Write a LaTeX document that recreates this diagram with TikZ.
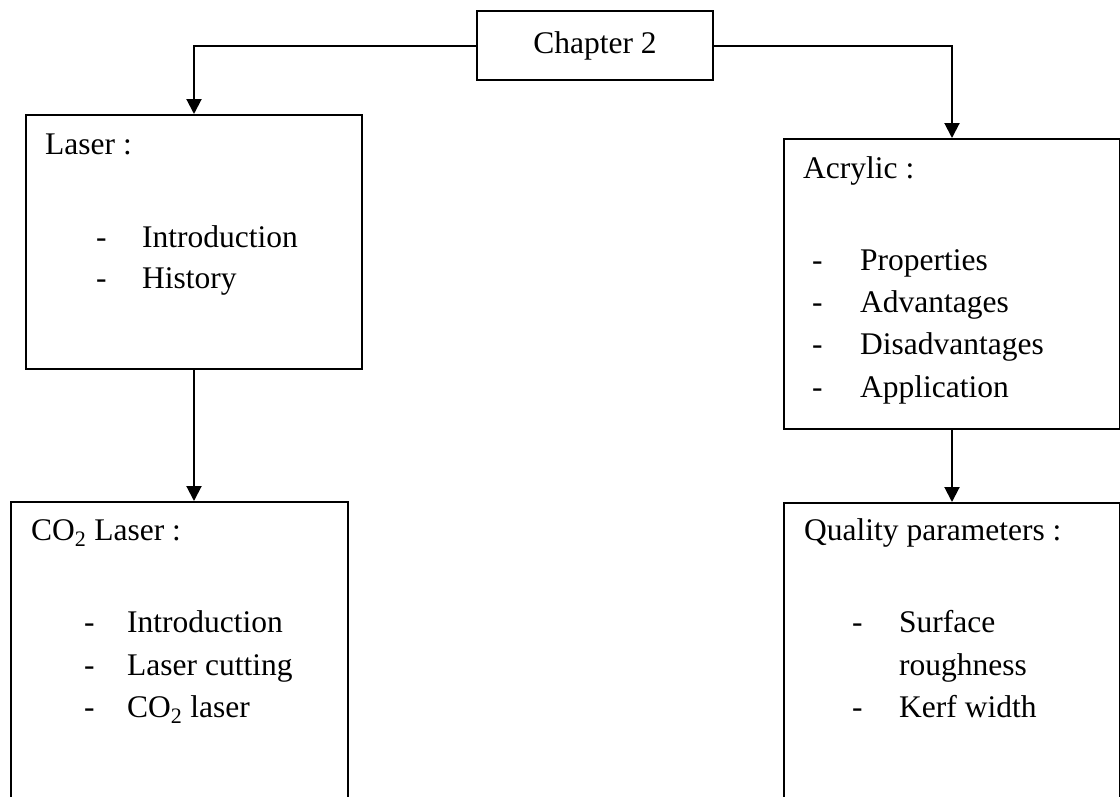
\documentclass[tikz,border=0pt]{standalone}
\usepackage{fontspec}
\setmainfont{Liberation Serif}
\usetikzlibrary{arrows.meta}
\tikzset{
  box/.style={draw, line width=2pt, anchor=north west, inner sep=0pt},
  txt/.style={anchor=base west, inner sep=0pt},
  arr/.style={line width=2pt, -{Triangle[width=15pt,length=15pt]}}
}
\begin{document}
\begin{tikzpicture}[x=1pt,y=-1pt,font=\fontsize{31.5pt}{42pt}\selectfont]
  \useasboundingbox (0,0) rectangle (1120,796);
  \clip (0,0) rectangle (1120,796);

  % boxes
  \node[box, minimum width=236pt, minimum height=69pt] (chap) at (476,10) {Chapter 2};
  \node[box, minimum width=336pt, minimum height=254pt] (laser) at (25,114) {};
  \node[box, minimum width=336pt, minimum height=290pt] (acryl) at (783,138) {};
  \node[box, minimum width=337pt, minimum height=340pt] (co2) at (10,501) {};
  \node[box, minimum width=336pt, minimum height=340pt] (qual) at (783,502) {};

  % connectors
  \draw[arr] (chap.west) -| (laser.north);
  \draw[arr] (chap.east) -| (acryl.north);
  \draw[arr] (laser.south) -- (laser.south |- co2.north);
  \draw[arr] (acryl.south) -- (qual.north);

  % laser
  \node[txt] (laserhead) at (45,154) {Laser :};
  \node[txt] (laserd1) at (96,247) {-};
  \node[txt] (laseri1) at (142,247) {Introduction};
  \node[txt] (laserd2) at (96,288) {-};
  \node[txt] (laseri2) at (142,288) {History};

  % acrylic
  \node[txt] (acrylhead) at (803,178) {Acrylic :};
  \node[txt] (acryld1) at (812,270) {-};
  \node[txt] (acryli1) at (860,270) {Properties};
  \node[txt] (acryld2) at (812,312) {-};
  \node[txt] (acryli2) at (860,312) {Advantages};
  \node[txt] (acryld3) at (812,354) {-};
  \node[txt] (acryli3) at (860,354) {Disadvantages};
  \node[txt] (acryld4) at (812,397) {-};
  \node[txt] (acryli4) at (860,397) {Application};

  % co2 laser
  \node[txt] (co2head) at (31,540) {CO\textsubscript{2} Laser :};
  \node[txt] (co2d1) at (84,632) {-};
  \node[txt] (co2i1) at (127,632) {Introduction};
  \node[txt] (co2d2) at (84,675) {-};
  \node[txt] (co2i2) at (127,675) {Laser cutting};
  \node[txt] (co2d3) at (84,717) {-};
  \node[txt] (co2i3) at (127,717) {CO\textsubscript{2} laser};

  % quality parameters
  \node[txt] (qualhead) at (804,540) {Quality parameters :};
  \node[txt] (quald1) at (852,632) {-};
  \node[txt] (quali1) at (899,632) {Surface};
  \node[txt] (quali1b) at (899,675) {roughness};
  \node[txt] (quald2) at (852,717) {-};
  \node[txt] (quali2) at (899,717) {Kerf width};
\end{tikzpicture}
\end{document}
